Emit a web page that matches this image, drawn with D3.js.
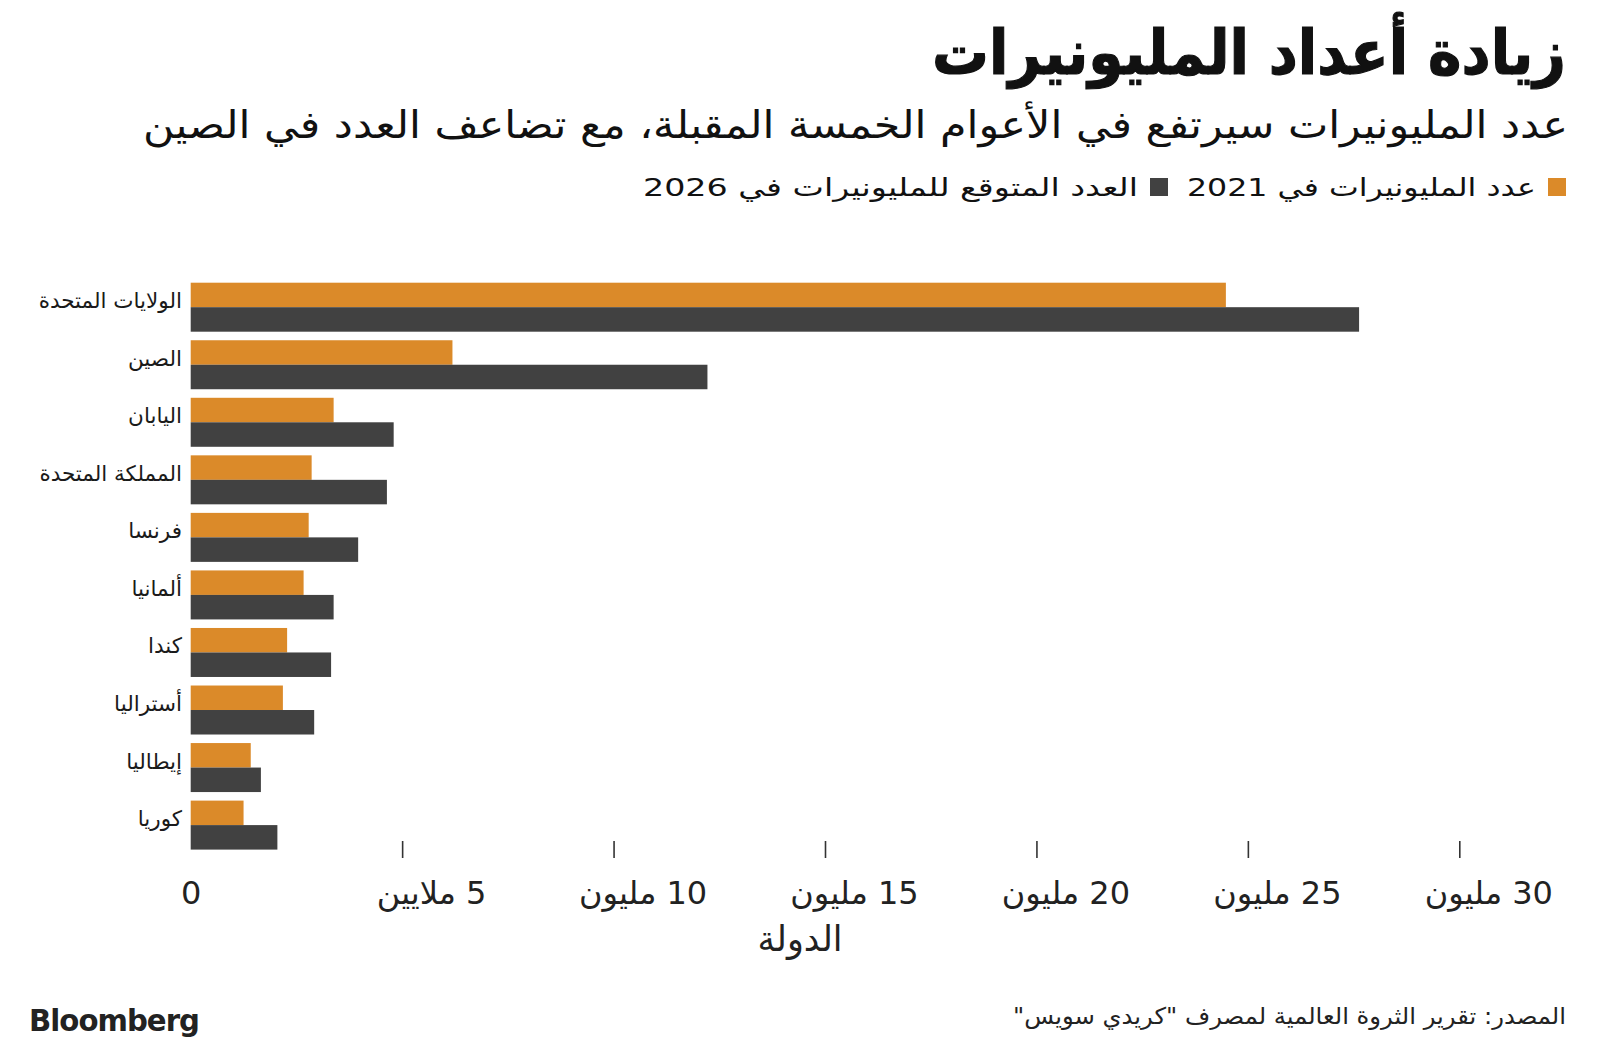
<!DOCTYPE html>
<html lang="ar">
<head>
<meta charset="utf-8">
<script src="https://cdn.jsdelivr.net/npm/d3@7"></script>
<style>
  html, body { margin: 0; padding: 0; background: #fff; }
  svg { display: block; }
  text { font-family: "DejaVu Sans", "Noto Sans", sans-serif; }
</style>
</head>
<body>
<svg id="chart" width="1600" height="1055"></svg>
<script>
// ---- data ----
const categories = ["الولايات المتحدة", "الصين", "اليابان", "المملكة المتحدة", "فرنسا", "ألمانيا", "كندا", "أستراليا", "إيطاليا", "كوريا"];
const series = ["2021", "2026"];
const values2021 = [24.48, 6.19, 3.38, 2.86, 2.79, 2.67, 2.28, 2.18, 1.42, 1.25];
const values2026 = [27.63, 12.22, 4.80, 4.64, 3.96, 3.38, 3.32, 2.92, 1.66, 2.05];
const tickValues = [0, 5, 10, 15, 20, 25, 30];
const tickLabels = ["0", "5 ملايين", "10 مليون", "15 مليون", "20 مليون", "25 مليون", "30 مليون"];
const legendLabels = ["عدد المليونيرات في 2021", "العدد المتوقع للمليونيرات في 2026"];
const titleText = "زيادة أعداد المليونيرات";
const subtitleText = "عدد المليونيرات سيرتفع في الأعوام الخمسة المقبلة، مع تضاعف العدد في الصين";
const axisTitle = "الدولة";
const sourceText = "المصدر: تقرير الثروة العالمية لمصرف \"كريدي سويس\"";

const colors = { "2021": "#db8a29", "2026": "#414141" };

const svg = d3.select("#chart");

// right-aligned RTL text helper (in RTL, text-anchor "start" = right edge)
function rtlText(parent, xPos, yPos, size, txt, len) {
  const t = parent.append("text")
    .attr("x", xPos).attr("y", yPos)
    .attr("direction", "rtl").attr("text-anchor", "start")
    .attr("font-size", size).attr("fill", "#111")
    .text(txt);
  if (len) t.attr("textLength", len).attr("lengthAdjust", "spacingAndGlyphs");
  return t;
}

// ---- scales ----
const x = d3.scaleLinear().domain([0, 30]).range([190.7, 1459.3]);
const y = d3.scaleBand().domain(categories).range([282.7, 849.6]).paddingInner(0.1486).paddingOuter(0);
const ySub = d3.scaleBand().domain(series).range([0, y.bandwidth()]).padding(0);

const rows = categories.map((c, i) => ({ cat: c, "2021": values2021[i], "2026": values2026[i] }));

// ---- bars ----
const g = svg.append("g");
const groups = g.selectAll("g.row").data(rows).join("g")
  .attr("class", "row")
  .attr("transform", d => `translate(0,${y(d.cat)})`);
groups.selectAll("rect").data(d => series.map(s => ({ s, v: d[s] }))).join("rect")
  .attr("x", x(0))
  .attr("y", d => ySub(d.s))
  .attr("width", d => x(d.v) - x(0))
  .attr("height", ySub.bandwidth())
  .attr("fill", d => colors[d.s]);

// ---- category labels ----
g.selectAll("text.cat").data(categories).join("text")
  .attr("class", "cat")
  .attr("x", 182)
  .attr("y", d => y(d) + y.bandwidth() / 2 + 1)
  .attr("direction", "rtl")
  .attr("text-anchor", "start")
  .attr("font-size", 21.5)
  .attr("fill", "#1a1a1a")
  .text(d => d);

// ---- x axis ----
const axis = d3.axisBottom(x).tickValues(tickValues)
  .tickSize(17).tickPadding(23)
  .tickFormat((d, i) => tickLabels[i]);
const ax = svg.append("g").attr("transform", "translate(0,841)").call(axis);
ax.select(".domain").remove();
ax.selectAll(".tick line").attr("stroke", "#333").attr("stroke-width", 1.6)
  .attr("display", d => d === 0 ? "none" : null);
ax.selectAll(".tick text")
  .attr("font-size", 32)
  .attr("font-family", "'Open Sans', 'DejaVu Sans', sans-serif")
  .attr("fill", "#222")
  .attr("direction", "rtl")
  .attr("dx", d => d === 0 ? 0 : 29);

svg.append("text")
  .attr("x", 800).attr("y", 951)
  .attr("text-anchor", "middle")
  .attr("font-size", 35)
  .attr("fill", "#222")
  .text(axisTitle);

// ---- title & subtitle ----
rtlText(svg, 1566, 74, 62, titleText, 634)
  .attr("font-weight", "bold")
  .attr("stroke", "#111").attr("stroke-width", 1.2);
rtlText(svg, 1568, 138, 38, subtitleText, 1425);

// ---- legend ----
const legendItems = [
  { key: "2021", label: legendLabels[0], sq: 1548, tr: 1536, w: 349 },
  { key: "2026", label: legendLabels[1], sq: 1150, tr: 1138, w: 495 }
];
const lg = svg.append("g");
legendItems.forEach(it => {
  lg.append("rect").attr("x", it.sq).attr("y", 178).attr("width", 18).attr("height", 18).attr("fill", colors[it.key]);
  rtlText(lg, it.tr, 196, 25, it.label, it.w);
});

// ---- footer ----
svg.append("text")
  .attr("x", 29).attr("y", 1031)
  .attr("font-family", "'Liberation Sans Narrow', 'Liberation Sans', Arial, sans-serif")
  .attr("font-weight", "bold").attr("font-size", 30).attr("fill", "#222")
  .attr("textLength", 170).attr("lengthAdjust", "spacingAndGlyphs")
  .attr("letter-spacing", -1)
  .text("Bloomberg");

rtlText(svg, 1566, 1024, 23, sourceText, 553).attr("fill", "#222");
</script>
</body>
</html>
